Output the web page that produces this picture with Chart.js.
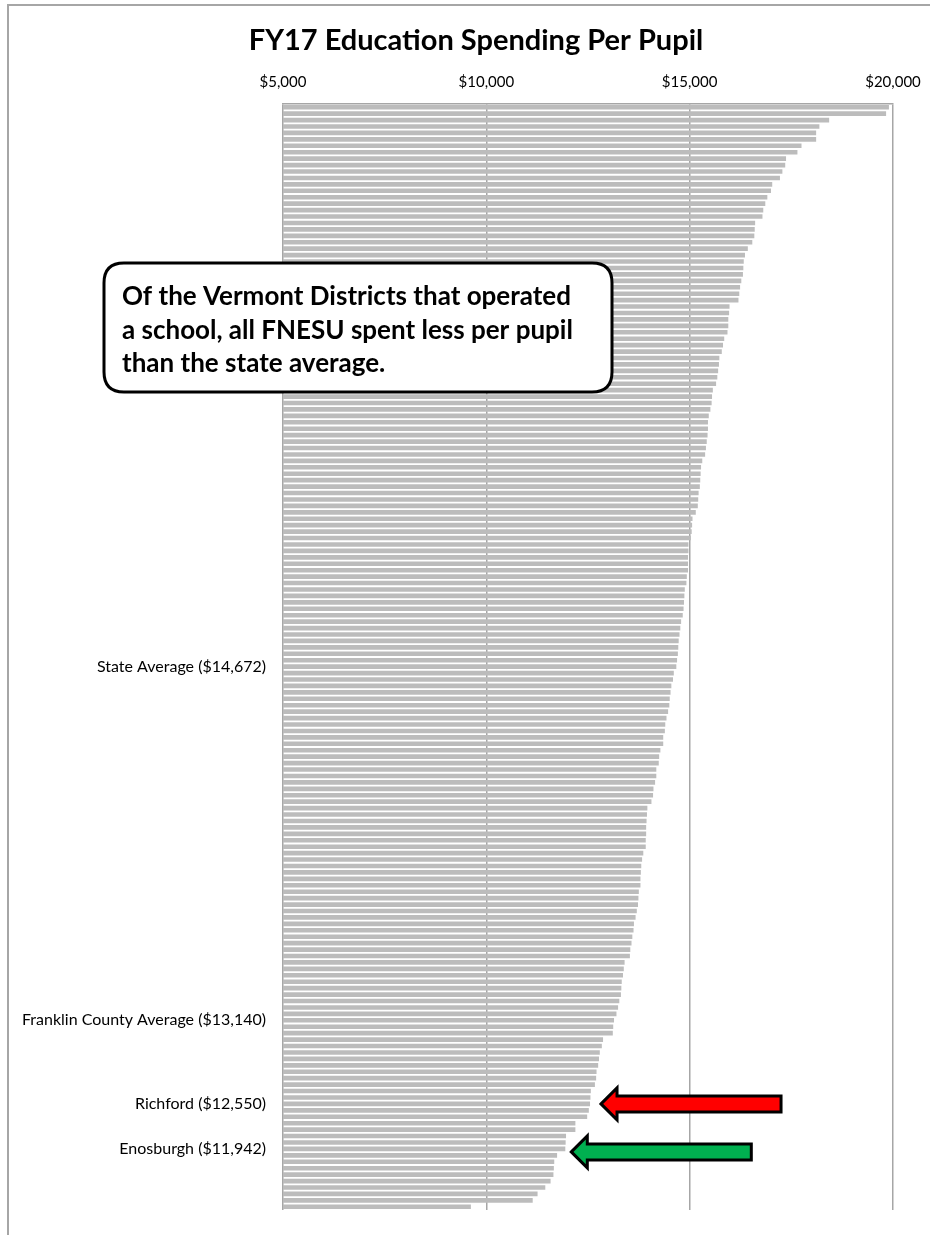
<!DOCTYPE html>
<html>
<head>
<meta charset="utf-8">
<script src="https://cdn.jsdelivr.net/npm/chart.js@4.4.1/dist/chart.umd.min.js"></script>
<style>
  html, body { margin: 0; padding: 0; background: #fff; }
  #wrap { width: 930px; height: 1235px; }
</style>
</head>
<body>
<div id="wrap"><canvas id="myChart" width="930" height="1235"></canvas></div>
<script>
// FY17 spending per pupil, one bar per district, sorted high to low
const spending = [
  19900, 19830, 18430, 18190, 18110, 18110, 17750, 17650, 17370, 17350,
  17280, 17220, 17030, 17000, 16910, 16860, 16810, 16790, 16610, 16600,
  16590, 16540, 16430, 16360, 16330, 16320, 16310, 16270, 16240, 16220,
  16200, 15980, 15970, 15950, 15950, 15930, 15850, 15820, 15790, 15730,
  15720, 15700, 15680, 15650, 15570, 15550, 15540, 15510, 15470, 15450,
  15450, 15440, 15420, 15400, 15380, 15310, 15280, 15270, 15260, 15250,
  15220, 15210, 15200, 15150, 15070, 15060, 15050, 15030, 14970, 14970,
  14960, 14960, 14960, 14930, 14920, 14880, 14870, 14860, 14850, 14830,
  14790, 14770, 14750, 14730, 14720, 14710, 14690, 14672, 14610, 14590,
  14550, 14530, 14510, 14500, 14470, 14430, 14400, 14390, 14350, 14350,
  14280, 14250, 14240, 14180, 14180, 14150, 14110, 14100, 14060, 13960,
  13950, 13940, 13930, 13930, 13920, 13920, 13860, 13830, 13810, 13800,
  13790, 13790, 13750, 13740, 13730, 13700, 13670, 13630, 13620, 13590,
  13570, 13540, 13530, 13400, 13380, 13360, 13330, 13320, 13310, 13270,
  13240, 13200, 13140, 13120, 13110, 12870, 12840, 12790, 12770, 12750,
  12710, 12700, 12670, 12570, 12560, 12550, 12520, 12480, 12190, 12190,
  11960, 11950, 11942, 11740, 11670, 11660, 11650, 11580, 11450, 11260,
  11140, 9620
];

// only a few bars carry a name
const namedIndex = [87, 142, 155, 162];
const namedText = [
  'State Average ($14,672)',
  'Franklin County Average ($13,140)',
  'Richford ($12,550)',
  'Enosburgh ($11,942)'
];
const categories = spending.map((v, i) => {
  const k = namedIndex.indexOf(i);
  return k >= 0 ? namedText[k] : '';
});

const xTicks = [5000, 10000, 15000, 20000];
const chartTitle = 'FY17 Education Spending Per Pupil';
const calloutLines = [
  'Of the Vermont Districts that operated',
  'a school, all FNESU spent less per pupil',
  'than the state average.'
];
// arrows point at Richford (red) and Enosburgh (green)
const arrows = [
  { index: 155, color: '#ff0000', gap: 11, dy: 0 },
  { index: 162, color: '#00b050', gap: 6, dy: 3 }
];

const FONT = 'Lato, "Open Sans", "Liberation Sans", sans-serif';

function roundRect(ctx, x, y, w, h, r) {
  ctx.beginPath();
  ctx.moveTo(x + r, y);
  ctx.lineTo(x + w - r, y);
  ctx.quadraticCurveTo(x + w, y, x + w, y + r);
  ctx.lineTo(x + w, y + h - r);
  ctx.quadraticCurveTo(x + w, y + h, x + w - r, y + h);
  ctx.lineTo(x + r, y + h);
  ctx.quadraticCurveTo(x, y + h, x, y + h - r);
  ctx.lineTo(x, y + r);
  ctx.quadraticCurveTo(x, y, x + r, y);
  ctx.closePath();
}

const extras = {
  id: 'extras',
  afterDraw(chart) {
    const ctx = chart.ctx;
    const xs = chart.scales.x, ys = chart.scales.y;
    ctx.save();

    // outer frame (top and left only visible)
    ctx.strokeStyle = '#a6a6a6';
    ctx.lineWidth = 2;
    ctx.beginPath();
    ctx.moveTo(8, 1235);
    ctx.lineTo(8, 5);
    ctx.lineTo(930, 5);
    ctx.stroke();

    // title
    ctx.fillStyle = '#000';
    ctx.font = 'bold 29px ' + FONT;
    ctx.textAlign = 'center';
    ctx.textBaseline = 'middle';
    ctx.fillText(chartTitle, 476, 41);

    // callout
    roundRect(ctx, 104, 263, 508, 129, 20);
    ctx.fillStyle = '#fff';
    ctx.fill();
    ctx.lineWidth = 3;
    ctx.strokeStyle = '#000';
    ctx.stroke();
    ctx.fillStyle = '#000';
    ctx.font = 'bold 26px ' + FONT;
    ctx.textAlign = 'left';
    calloutLines.forEach((t, i) => ctx.fillText(t, 122, 297 + i * 33.5));

    // arrows
    arrows.forEach(a => {
      const tx = xs.getPixelForValue(spending[a.index]) + a.gap;
      const cy = ys.getPixelForValue(a.index) + a.dy;
      const head = 16, hh = 16, sh = 8, len = 180;
      ctx.beginPath();
      ctx.moveTo(tx, cy);
      ctx.lineTo(tx + head, cy - hh);
      ctx.lineTo(tx + head, cy - sh);
      ctx.lineTo(tx + len, cy - sh);
      ctx.lineTo(tx + len, cy + sh);
      ctx.lineTo(tx + head, cy + sh);
      ctx.lineTo(tx + head, cy + hh);
      ctx.closePath();
      ctx.fillStyle = a.color;
      ctx.fill();
      ctx.lineJoin = 'miter';
      ctx.lineWidth = 3;
      ctx.strokeStyle = '#000';
      ctx.stroke();
    });
    ctx.restore();
  }
};

new Chart(document.getElementById('myChart').getContext('2d'), {
  type: 'bar',
  data: {
    labels: categories,
    datasets: [{
      label: 'Spending per pupil',
      data: spending,
      backgroundColor: '#bcbcbc',
      borderWidth: 0,
      barPercentage: 0.72,
      categoryPercentage: 1
    }]
  },
  options: {
    indexAxis: 'y',
    responsive: false,
    animation: false,
    devicePixelRatio: 1,
    layout: { padding: { top: 60, right: 37, bottom: 25, left: 0 } },
    plugins: {
      legend: { display: false },
      tooltip: { enabled: false },
      title: { display: false }
    },
    scales: {
      x: {
        position: 'top',
        min: 5000,
        max: 20000,
        z: 1,
        afterBuildTicks: s => { s.ticks = xTicks.map(v => ({ value: v })); },
        afterFit: s => { s.height = 44; s.paddingLeft = 0; s.paddingRight = 0; },
        grid: { color: '#a6a6a6', lineWidth: 1.5, drawTicks: false },
        border: { display: true, color: '#a6a6a6', width: 1.5 },
        ticks: {
          padding: 13,
          color: '#000',
          font: { family: FONT, size: 15 },
          callback: v => '$' + v.toLocaleString('en-US')
        }
      },
      y: {
        afterFit: s => { s.width = 283; },
        grid: { display: false },
        border: { display: false },
        ticks: {
          autoSkip: false,
          padding: 9,
          color: '#000',
          font: { family: FONT, size: 16 }
        }
      }
    }
  },
  plugins: [extras]
});
</script>
</body>
</html>
